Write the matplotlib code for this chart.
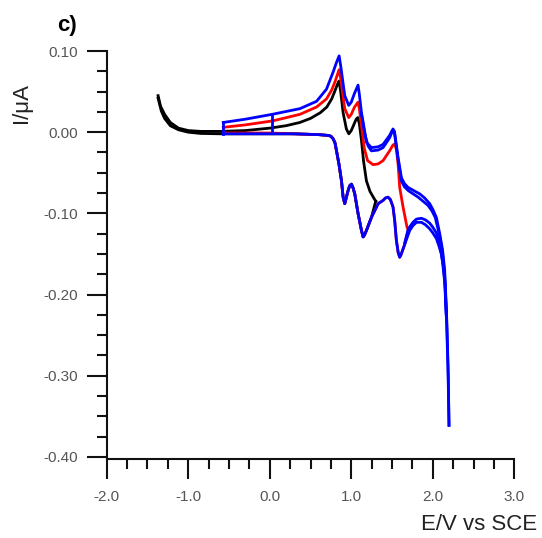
import matplotlib
matplotlib.use("Agg")
import matplotlib.pyplot as plt
from matplotlib.ticker import MultipleLocator, FormatStrFormatter

plt.rcParams["font.family"] = ["Liberation Sans", "DejaVu Sans"]
plt.rcParams["axes.unicode_minus"] = False

# ---- cyclic voltammograms (E in V vs SCE, I in uA) ----
# black: -1.37 V .. 1.30 V
black_fwd_E = [-1.37, -1.34, -1.29, -1.22, -1.12, -1.00, -0.85, -0.60, -0.30, 0.00, 0.20,
               0.37, 0.50, 0.62, 0.70, 0.76, 0.80, 0.83, 0.85, 0.87, 0.90, 0.94, 0.97, 1.00,
               1.03, 1.06, 1.08, 1.10, 1.125, 1.15, 1.186, 1.23, 1.27, 1.30]
black_fwd_I = [0.045, 0.032, 0.022, 0.012, 0.005, 0.002, 0.001, 0.001, 0.002, 0.005, 0.008,
               0.012, 0.017, 0.024, 0.031, 0.041, 0.051, 0.059, 0.063, 0.050, 0.024, 0.004, -0.002, 0.002,
               0.009, 0.016, 0.018, 0.010, -0.010, -0.035, -0.060, -0.073, -0.080, -0.085]
black_rev_E = [1.30, 1.247, 1.186, 1.16, 1.145, 1.125, 1.083, 1.043, 1.02, 1.002, 0.98, 0.961,
               0.92, 0.90, 0.88, 0.85, 0.819, 0.80, 0.777, 0.75, 0.72, 0.60, 0.30, 0.00, -0.30,
               -0.60, -0.85, -1.00, -1.12, -1.22, -1.29, -1.33, -1.37]
black_rev_I = [-0.085, -0.105, -0.121, -0.127, -0.129, -0.121, -0.100, -0.076, -0.068, -0.064, -0.066, -0.072,
               -0.088, -0.080, -0.060, -0.040, -0.023, -0.013, -0.008, -0.005, -0.004, -0.003, -0.002, -0.002, -0.002,
               -0.002, -0.0015, 0.000, 0.003, 0.008, 0.017, 0.026, 0.042]

# red: -0.57 V .. 1.70 V
red_fwd_E = [-0.57, -0.30, 0.04, 0.37, 0.574, 0.696, 0.76, 0.80, 0.83, 0.851, 0.87, 0.92, 0.969,
             1.00, 1.04, 1.083, 1.10, 1.125, 1.16, 1.20, 1.267, 1.33, 1.39, 1.47, 1.51, 1.533, 1.555,
             1.574, 1.594, 1.635, 1.684, 1.70]
red_fwd_I = [0.006, 0.009, 0.014, 0.022, 0.031, 0.041, 0.052, 0.062, 0.071, 0.077, 0.066, 0.029, 0.018,
             0.022, 0.031, 0.037, 0.028, 0.008, -0.020, -0.035, -0.040, -0.039, -0.035, -0.023, -0.016, -0.0145, -0.022,
             -0.039, -0.068, -0.092, -0.117, -0.120]
red_rev_E = [1.70, 1.656, 1.61, 1.594, 1.575, 1.553, 1.533, 1.512, 1.48, 1.451, 1.42, 1.39, 1.33,
             1.247, 1.186, 1.16, 1.145, 1.125, 1.083, 1.043, 1.02, 1.002, 0.98, 0.961, 0.92, 0.90,
             0.88, 0.85, 0.819, 0.80, 0.777, 0.75, 0.72, 0.60, 0.30, 0.00, -0.30, -0.57]
red_rev_I = [-0.120, -0.138, -0.151, -0.154, -0.148, -0.133, -0.109, -0.092, -0.083, -0.080, -0.081, -0.084, -0.088,
             -0.105, -0.121, -0.127, -0.129, -0.121, -0.100, -0.076, -0.068, -0.064, -0.066, -0.072, -0.088, -0.080,
             -0.060, -0.040, -0.023, -0.013, -0.008, -0.005, -0.004, -0.003, -0.002, -0.001, -0.001, -0.001]

# blue: -0.57 V .. 2.20 V (two cycles)
blue_start_E = [0.03, 0.03]
blue_start_I = [-0.001, 0.022]
blue_fwd_E = [-0.57, -0.30, 0.03, 0.37, 0.574, 0.696, 0.777, 0.819, 0.851, 0.87, 0.92, 0.969,
              1.00, 1.04, 1.083, 1.10, 1.125, 1.166, 1.186, 1.247, 1.33, 1.39, 1.47, 1.495, 1.512,
              1.53, 1.545, 1.574, 1.615, 1.65, 1.696, 1.75, 1.84, 1.90, 1.962, 2.00, 2.044, 2.085,
              2.12, 2.146, 2.167, 2.186, 2.199]
blue_fwd_I = [0.012, 0.016, 0.022, 0.029, 0.038, 0.053, 0.074, 0.086, 0.094, 0.082, 0.045, 0.033,
              0.037, 0.048, 0.058, 0.046, 0.024, 0.000, -0.0125, -0.019, -0.018, -0.015, -0.004, 0.001, 0.004,
              0.001, -0.010, -0.031, -0.056, -0.063, -0.068, -0.071, -0.076, -0.081, -0.088, -0.095, -0.105, -0.125,
              -0.145, -0.170, -0.228, -0.289, -0.361]
blue_rev_E = [2.199, 2.19, 2.175, 2.155, 2.13, 2.105, 2.075, 2.044, 2.00, 1.962, 1.91, 1.86, 1.80,
              1.757, 1.717, 1.656, 1.61, 1.594, 1.575, 1.553, 1.533, 1.512, 1.48, 1.451, 1.42, 1.39,
              1.33, 1.247, 1.186, 1.16, 1.145, 1.125, 1.083, 1.043, 1.02, 1.002, 0.98, 0.961, 0.92,
              0.90, 0.88, 0.85, 0.819, 0.80, 0.777, 0.75, 0.72, 0.60, 0.30, 0.00, -0.30, -0.57]
blue_rev_I = [-0.361, -0.300, -0.240, -0.190, -0.165, -0.150, -0.140, -0.131, -0.124, -0.119, -0.114, -0.111, -0.111,
              -0.115, -0.121, -0.138, -0.151, -0.154, -0.148, -0.133, -0.109, -0.092, -0.083, -0.080, -0.081, -0.084,
              -0.088, -0.105, -0.121, -0.127, -0.129, -0.121, -0.100, -0.076, -0.068, -0.064, -0.066, -0.072, -0.088,
              -0.080, -0.060, -0.040, -0.023, -0.013, -0.008, -0.005, -0.004, -0.003, -0.002, -0.002, -0.002, -0.002]
blue_close_E = [-0.57, -0.57]
blue_close_I = [-0.002, 0.012]
# second blue cycle, anodic region
blue2_fwd_E = [1.125, 1.166, 1.206, 1.247, 1.33, 1.39, 1.47, 1.495, 1.512, 1.53, 1.545, 1.574, 1.615,
               1.65, 1.70, 1.76, 1.82, 1.88, 1.94, 1.99, 2.03, 2.085, 2.12, 2.146, 2.167]
blue2_fwd_I = [0.022, -0.002, -0.017, -0.023, -0.022, -0.019, -0.007, -0.001, 0.002, -0.001, -0.012, -0.034, -0.060,
               -0.067, -0.072, -0.076, -0.080, -0.085, -0.090, -0.097, -0.105, -0.128, -0.150, -0.176, -0.228]
blue2_rev_E = [2.167, 2.146, 2.12, 2.09, 2.044, 2.00, 1.962, 1.91, 1.86, 1.80, 1.757, 1.70, 1.656]
blue2_rev_I = [-0.228, -0.185, -0.160, -0.140, -0.124, -0.117, -0.112, -0.108, -0.106, -0.107, -0.111, -0.119, -0.136]

fig = plt.figure(figsize=(5.42, 5.38), dpi=100)
ax = fig.add_axes([0.1969, 0.1506, 0.7520, 0.7546])

lw = 2.0
ax.plot(black_fwd_E, black_fwd_I, color="black", lw=lw, solid_joinstyle="round")
ax.plot(black_rev_E, black_rev_I, color="black", lw=lw, solid_joinstyle="round")
ax.plot(red_fwd_E, red_fwd_I, color="#ff0000", lw=lw, solid_joinstyle="round")
ax.plot(red_rev_E, red_rev_I, color="#ff0000", lw=lw, solid_joinstyle="round")
for e, i in [(blue_start_E, blue_start_I), (blue_fwd_E, blue_fwd_I), (blue_rev_E, blue_rev_I),
             (blue_close_E, blue_close_I), (blue2_fwd_E, blue2_fwd_I), (blue2_rev_E, blue2_rev_I)]:
    ax.plot(e, i, color="#0000ff", lw=lw, solid_joinstyle="round")

ax.set_xlim(-2.0, 3.0)
ax.set_ylim(-0.40, 0.10)
ax.xaxis.set_major_locator(MultipleLocator(1.0))
ax.xaxis.set_minor_locator(MultipleLocator(0.25))
ax.yaxis.set_major_locator(MultipleLocator(0.1))
ax.yaxis.set_minor_locator(MultipleLocator(0.025))
ax.xaxis.set_major_formatter(FormatStrFormatter("%.1f"))
ax.yaxis.set_major_formatter(FormatStrFormatter("%.2f"))

for s in ["top", "right"]:
    ax.spines[s].set_visible(False)
for s in ["left", "bottom"]:
    ax.spines[s].set_linewidth(1.5)
    ax.spines[s].set_color("#111111")
ax.spines["bottom"].set_position(("outward", 1.5))

ax.tick_params(which="major", direction="out", length=14.5, width=1.5, color="#111111",
               labelsize=11, labelcolor="#555555")
ax.tick_params(which="minor", direction="out", length=7.2, width=1.5, color="#111111")
ax.tick_params(axis="y", which="major", pad=6.5)
ax.tick_params(axis="x", which="major", pad=8)

fig.text(67 / 542, 1 - 26 / 538, "c)", fontsize=16, fontweight="bold", ha="center", va="center")
fig.text(22 / 542, 1 - 103 / 538, "I/\u03bcA", fontsize=16, rotation=90, ha="center", va="center",
         color="#222222")
fig.text(537 / 542, 1 - 525 / 538, "E/V vs SCE", fontsize=16, ha="right", va="center",
         color="#222222")

fig.savefig("out.png", dpi=100)
